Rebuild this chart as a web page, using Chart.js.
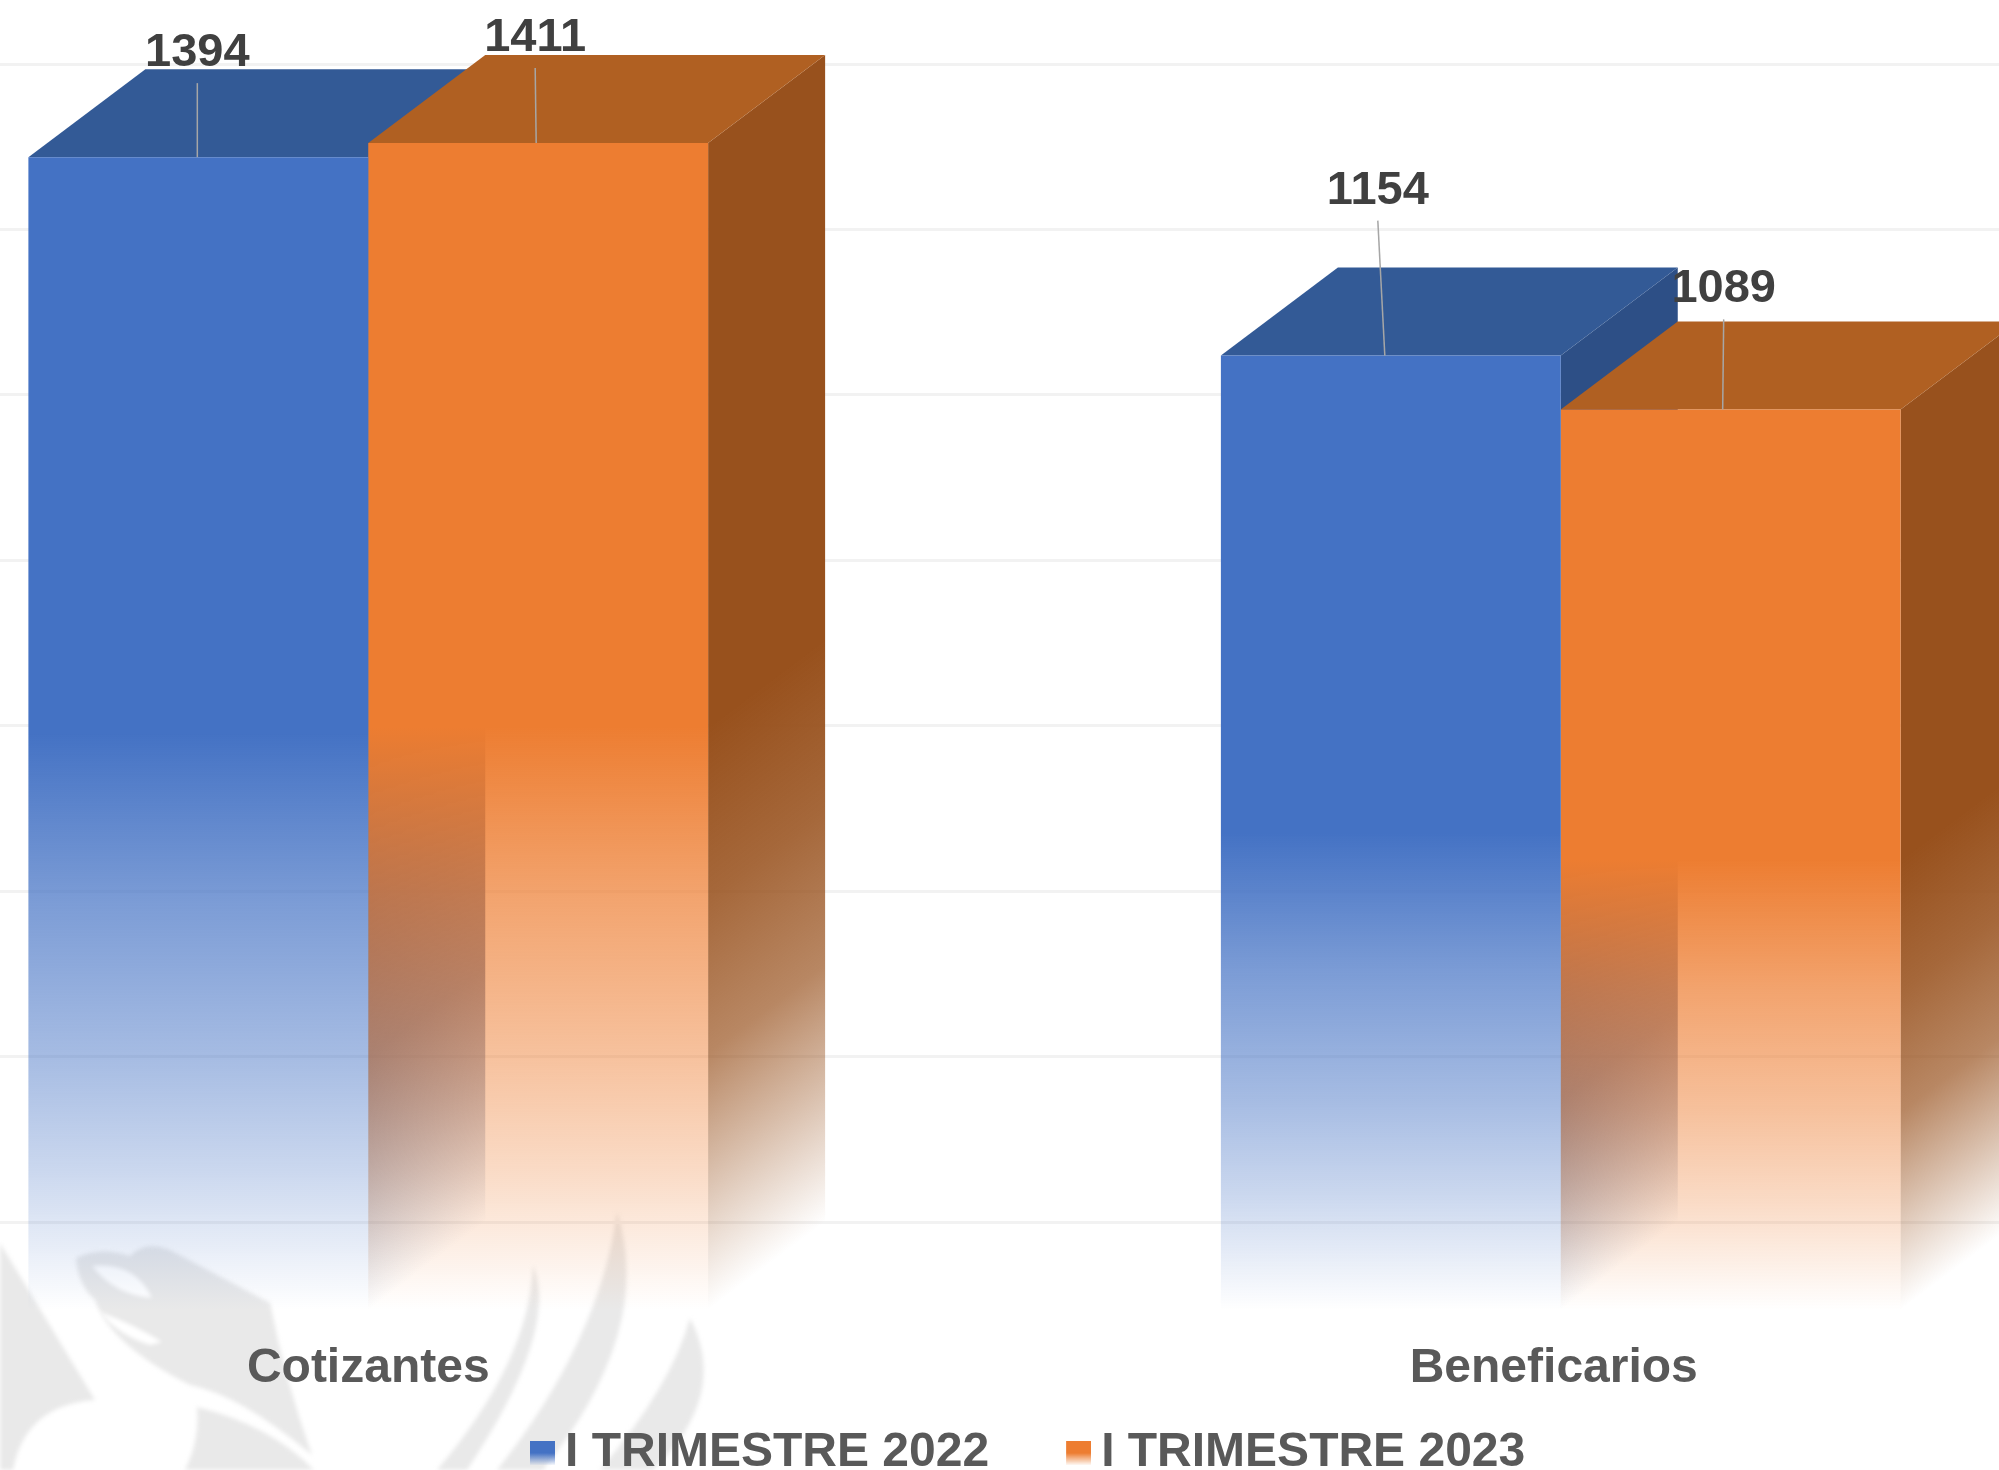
<!DOCTYPE html>
<html>
<head>
<meta charset="utf-8">
<style>
html,body{margin:0;padding:0;background:#fff;overflow:hidden;width:1999px;height:1470px;}
canvas{display:block;position:absolute;left:-228px;top:0;}
</style>
<script src="https://cdn.jsdelivr.net/npm/chart.js@4"></script>
</head>
<body>
<canvas id="c" width="2385" height="1470" style="width:2385px;height:1470px"></canvas>
<script>
const categories = ['Cotizantes', 'Beneficarios'];
const seriesNames = ['I TRIMESTRE 2022', 'I TRIMESTRE 2023'];
const values2022 = [1394, 1154];
const values2023 = [1411, 1089];
const gridValues = [0, 200, 400, 600, 800, 1000, 1200, 1400];

const FONT = '"Liberation Sans", Arial, sans-serif';
const originX = 228; // the plot runs off both sides of the picture
const depthX = 117, depthY = 88;
const faces = [
  {front: [68, 114, 196], top: '#335A96', side: [45, 79, 134]},
  {front: [237, 125, 49], top: '#B06022', side: [152, 81, 29]}
];
const frontFade = [[0, 1], [0.5, 1], [0.646, 0.7], [0.78, 0.48], [0.88, 0.28], [1, 0]];
const sideFade = [[0, 1], [0.5, 1], [0.646, 0.87], [0.78, 0.69], [0.88, 0.38], [1, 0]];
// label placement relative to each bar's top-centre: [dx, dy, leaderEndDx]
const labelOffsets = [
  [[-1, -104, -1], [-13, -165, -6]],
  [[-3, -105, -2], [-7, -120, -8]]
];
const xLabelNudge = [0, -7];

function fadeStops(g, c, stops) {
  stops.forEach(s => g.addColorStop(s[0], `rgba(${c[0]},${c[1]},${c[2]},${s[1]})`));
  return g;
}
function swatch(c) {
  const cv = document.createElement('canvas');
  cv.width = 32; cv.height = 24;
  const x = cv.getContext('2d');
  const g = x.createLinearGradient(0, 0, 0, 24);
  const col = `rgb(${c[0]},${c[1]},${c[2]})`;
  g.addColorStop(0, col); g.addColorStop(0.5, col);
  g.addColorStop(1, `rgba(${c[0]},${c[1]},${c[2]},0.05)`);
  x.fillStyle = g;
  x.fillRect(7, 0, 25, 24);
  return cv;
}

const watermark = {
  id: 'watermark',
  beforeDraw(chart) {
    const c = chart.ctx;
    c.save();
    c.translate(originX, 0);
    c.filter = 'blur(2px)';
    c.fillStyle = '#E9E9E9';
    // left wing
    c.beginPath();
    c.moveTo(0, 1243); c.lineTo(95, 1400);
    c.quadraticCurveTo(25, 1405, 13, 1470);
    c.lineTo(0, 1470); c.closePath(); c.fill();
    // head and body
    c.beginPath();
    c.moveTo(76, 1258);
    c.quadraticCurveTo(100, 1246, 130, 1256);
    c.quadraticCurveTo(145, 1240, 170, 1250);
    c.lineTo(270, 1303);
    c.quadraticCurveTo(285, 1380, 312, 1455);
    c.quadraticCurveTo(240, 1395, 190, 1385);
    c.quadraticCurveTo(110, 1345, 95, 1300);
    c.quadraticCurveTo(78, 1285, 76, 1258);
    c.closePath(); c.fill();
    // lower body
    c.beginPath();
    c.moveTo(197, 1407);
    c.quadraticCurveTo(270, 1425, 314, 1470);
    c.lineTo(185, 1470);
    c.quadraticCurveTo(200, 1440, 197, 1407);
    c.closePath(); c.fill();
    // three blades
    const blades = [
      [533, 1265, 560, 1330, 467, 1470, 437, 1470, 530, 1360],
      [617, 1212, 655, 1330, 543, 1470, 497, 1470, 600, 1340],
      [690, 1318, 730, 1395, 653, 1470, 600, 1470, 672, 1385]
    ];
    blades.forEach(b => {
      c.beginPath();
      c.moveTo(b[0], b[1]);
      c.quadraticCurveTo(b[2], b[3], b[4], b[5]);
      c.lineTo(b[6], b[7]);
      c.quadraticCurveTo(b[8], b[9], b[0], b[1]);
      c.closePath(); c.fill();
    });
    // white details of the head
    c.fillStyle = '#FFFFFF';
    c.beginPath();
    c.moveTo(92, 1266);
    c.quadraticCurveTo(135, 1262, 152, 1298);
    c.quadraticCurveTo(115, 1295, 92, 1266);
    c.closePath(); c.fill();
    c.beginPath();
    c.moveTo(100, 1312);
    c.quadraticCurveTo(135, 1325, 162, 1342);
    c.lineTo(150, 1345);
    c.quadraticCurveTo(118, 1335, 100, 1312);
    c.closePath(); c.fill();
    c.restore();
    // shift the second category label to where the picture has it
    const sx = chart.scales.x;
    sx.getLabelItems().forEach((it, i) => {
      it.options.translation[0] = sx.getPixelForTick(i) + xLabelNudge[i];
    });
  }
};

const faces3d = {
  id: 'faces3d',
  beforeDatasetsDraw(chart) {
    const c = chart.ctx, y0 = chart.scales.y.getPixelForValue(0);
    chart.data.datasets.forEach((ds, i) => {
      chart.getDatasetMeta(i).data.forEach(bar => {
        const l = bar.x - bar.width / 2, r = bar.x + bar.width / 2, t = bar.y;
        c.save();
        c.save();
        c.transform(1, -depthY / depthX, 0, 1, r, 0);
        const g = c.createLinearGradient(0, t, 0, y0);
        fadeStops(g, faces[i].side, sideFade);
        c.fillStyle = g;
        c.fillRect(0, t, depthX, y0 - t);
        c.restore();
        c.fillStyle = faces[i].top;
        c.beginPath();
        c.moveTo(l, t); c.lineTo(r, t);
        c.lineTo(r + depthX, t - depthY); c.lineTo(l + depthX, t - depthY);
        c.closePath(); c.fill();
        c.restore();
      });
    });
  },
  afterDatasetsDraw(chart) {
    const c = chart.ctx;
    c.save();
    chart.data.datasets.forEach((ds, i) => {
      chart.getDatasetMeta(i).data.forEach((bar, j) => {
        const o = labelOffsets[i][j];
        const lx = bar.x + o[0], ly = bar.y + o[1];
        c.strokeStyle = '#A6A6A6';
        c.lineWidth = 1.5;
        c.beginPath();
        c.moveTo(lx, ly + 30);
        c.lineTo(bar.x + o[2], bar.y);
        c.stroke();
        c.fillStyle = '#404040';
        c.font = 'bold 47px ' + FONT;
        c.textAlign = 'center';
        c.textBaseline = 'middle';
        c.fillText(String(ds.data[j]), lx, ly);
      });
    });
    c.restore();
  }
};

const legendPlace = {
  id: 'legendPlace',
  afterLayout(chart) {
    const lg = chart.legend;
    lg.left = originX + 453; lg.right = chart.width; lg.top = 1345; lg.bottom = 1470;
  }
};

function frontFill(i) {
  return ctx => {
    const chart = ctx.chart, col = faces[i].front;
    const solid = `rgb(${col[0]},${col[1]},${col[2]})`;
    if (!chart.chartArea || ctx.parsed === undefined || ctx.parsed.y === undefined) return solid;
    const s = chart.scales.y;
    const g = chart.ctx.createLinearGradient(0, s.getPixelForValue(ctx.parsed.y), 0, s.getPixelForValue(0));
    return fadeStops(g, col, frontFade);
  };
}

new Chart(document.getElementById('c'), {
  type: 'bar',
  plugins: [watermark, faces3d, legendPlace],
  data: {
    labels: categories,
    datasets: [
      {label: seriesNames[0], data: values2022, backgroundColor: frontFill(0), pointStyle: swatch(faces[0].front)},
      {label: seriesNames[1], data: values2023, backgroundColor: frontFill(1), pointStyle: swatch(faces[1].front)}
    ]
  },
  options: {
    responsive: false,
    devicePixelRatio: 1,
    animation: false,
    layout: {padding: {left: 0, right: 0, top: 0, bottom: 15}},
    datasets: {bar: {categoryPercentage: 0.57, barPercentage: 1, borderWidth: 0}},
    scales: {
      x: {
        grid: {display: false},
        border: {display: false},
        afterFit: s => { s.height = 85; },
        ticks: {
          autoSkip: false, maxRotation: 0, padding: 22, color: '#595959',
          font: {family: FONT, size: 48, weight: 'bold'}
        }
      },
      y: {display: false, min: 0, max: 1584},
      grid: {
        position: 'left',
        min: -106.4, max: 1477.6,
        afterFit: s => { s.width = 0; },
        afterBuildTicks: s => { s.ticks = gridValues.map(v => ({value: v})); },
        border: {display: false},
        grid: {color: '#F2F2F2', lineWidth: 3, drawTicks: false},
        ticks: {display: false}
      }
    },
    plugins: {
      tooltip: {enabled: false},
      title: {display: false},
      legend: {
        position: 'bottom', align: 'start', maxHeight: 60,
        labels: {
          usePointStyle: true, pointStyleWidth: 4, padding: 84, color: '#595959',
          font: {family: FONT, size: 48, weight: 'bold'},
          generateLabels: chart => chart.data.datasets.map((d, i) => ({
            text: d.label, pointStyle: d.pointStyle, datasetIndex: i,
            fontColor: '#595959', lineWidth: 0, hidden: false
          }))
        }
      }
    }
  }
});
</script>
</body>
</html>
